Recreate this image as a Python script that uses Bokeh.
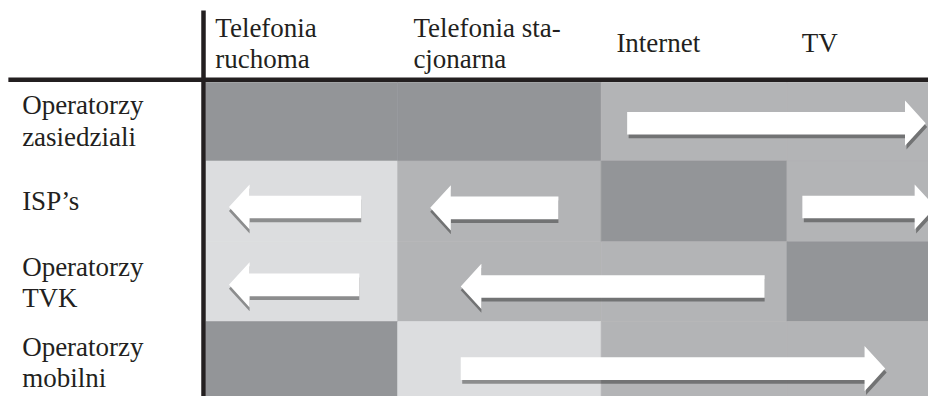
from bokeh.plotting import figure
from bokeh.models import Range1d
from bokeh.core.properties import value
from bokeh.embed import file_html
from bokeh.resources import INLINE

# ---------------- data ----------------
columns = ["Telefonia ruchoma", "Telefonia stacjonarna", "Internet", "TV"]
column_label_lines = [["Telefonia", "ruchoma"], ["Telefonia sta-", "cjonarna"], ["Internet"], ["TV"]]
rows = ["Operatorzy zasiedziali", "ISP’s", "Operatorzy TVK", "Operatorzy mobilni"]
row_label_lines = [["Operatorzy", "zasiedziali"], ["ISP’s"], ["Operatorzy", "TVK"], ["Operatorzy", "mobilni"]]

# cell shade per row and market (0 = light, 1 = medium, 2 = dark)
shade_zasiedziali = [2, 2, 1, 1]
shade_isp = [0, 1, 2, 1]
shade_tvk = [0, 1, 1, 2]
shade_mobilni = [2, 0, 1, 1]

# arrows (expansion directions): row, tail and tip in column units, level within row
arrow_row = [0, 1, 1, 1, 2, 2, 3]
arrow_tail = [2.14, 0.81, 1.79, 3.08, 0.80, 2.88, 1.31]
arrow_tip = [3.72, 0.12, 1.16, 3.77, 0.12, 1.31, 3.51]
arrow_level = [0.52, 0.57, 0.58, 0.57, 0.54, 0.56, 0.59]

# ---------------- layout / style ----------------
W, H = 928, 396              # canvas size in screen px
XR, YR = 944, 412            # layout units (reference frame)
col_edges = [209, 404, 611, 800, 996]
row_edges = [85, 167, 251, 334, 417]
header_pad = [9.5, 16, 15.5, 15]
header_baselines_two = [39.5, 72]
header_baseline_one = 55
row_label_x = 22
row_label_baselines = [[120, 153], [220], [288, 321], [371, 404]]
baseline_fix = -11           # renderer places alphabetic baseline lower

shade_colors = ["#dcdddf", "#b3b4b6", "#939598"]
ink = "#231f20"
font = "Liberation Serif"
font_size = "27px"

shaft_half = 11.75
head_half = 23.5
head_len = 21.0


def col_x(u):
    i = min(int(u), 3)
    return col_edges[i] + (u - i) * (col_edges[i + 1] - col_edges[i])


def row_y(v):
    i = min(int(v), 3)
    return row_edges[i] + (v - i) * (row_edges[i + 1] - row_edges[i])


p = figure(width=W, height=H,
           x_range=Range1d(0, XR), y_range=Range1d(YR, 0),
           x_axis_location=None, y_axis_location=None,
           output_backend="svg", toolbar_location=None, min_border=0)
p.grid.visible = False
p.outline_line_color = None
p.background_fill_color = "white"
p.border_fill_color = "white"

# ---------------- cells ----------------
shades = [shade_zasiedziali, shade_isp, shade_tvk, shade_mobilni]
left, right, top, bottom, fill = [], [], [], [], []
for r, row_sh in enumerate(shades):
    for c, s in enumerate(row_sh):
        left.append(col_edges[c])
        right.append(col_edges[c + 1])
        top.append(row_edges[r])
        bottom.append(row_edges[r + 1])
        fill.append(shade_colors[s])
p.quad(left=left, right=right, top=top, bottom=bottom, fill_color=fill,
       line_color=fill, line_width=0.6)

# ---------------- arrows ----------------
def arrow_poly(x0, x1, yc, dx=0.0, dy=0.0):
    d = 1 if x1 > x0 else -1
    base = x1 - d * head_len
    xs = [x0, base, base, x1, base, base, x0]
    ys = [yc - shaft_half, yc - shaft_half, yc - head_half, yc,
          yc + head_half, yc + shaft_half, yc + shaft_half]
    return [x + dx for x in xs], [y + dy for y in ys]


sh_xs, sh_ys, ar_xs, ar_ys = [], [], [], []
for r, t0, t1, lv in zip(arrow_row, arrow_tail, arrow_tip, arrow_level):
    x0, x1 = col_x(t0), col_x(t1)
    yc = row_y(r + lv)
    dx = 1.5 if x1 > x0 else 0.0
    sx, sy = arrow_poly(x0, x1, yc, dx, 4.0)
    ax, ay = arrow_poly(x0, x1, yc)
    sh_xs.append(sx); sh_ys.append(sy)
    ar_xs.append(ax); ar_ys.append(ay)

p.patches(xs=sh_xs, ys=sh_ys, fill_color="black", fill_alpha=0.36, line_color=None)
p.patches(xs=ar_xs, ys=ar_ys, fill_color="white", line_color=None)

# ---------------- rules ----------------
p.segment(x0=[8, 206.5], y0=[82.4, 10.5], x1=[XR, 206.5], y1=[82.4, YR],
          line_color=ink, line_width=4.5)

# ---------------- texts ----------------
tx, ty, tt = [], [], []
for c, lines in enumerate(column_label_lines):
    bl = header_baselines_two if len(lines) == 2 else [header_baseline_one]
    for line, b in zip(lines, bl):
        tx.append(col_edges[c] + header_pad[c]); ty.append(b + baseline_fix); tt.append(line)
for r, lines in enumerate(row_label_lines):
    for line, b in zip(lines, row_label_baselines[r]):
        tx.append(row_label_x); ty.append(b + baseline_fix); tt.append(line)

p.text(x=tx, y=ty, text=tt, text_font=value(font), text_font_size=font_size,
       text_color=ink, text_baseline="alphabetic", text_align="left")

open("out.html", "w").write(file_html(p, INLINE))
